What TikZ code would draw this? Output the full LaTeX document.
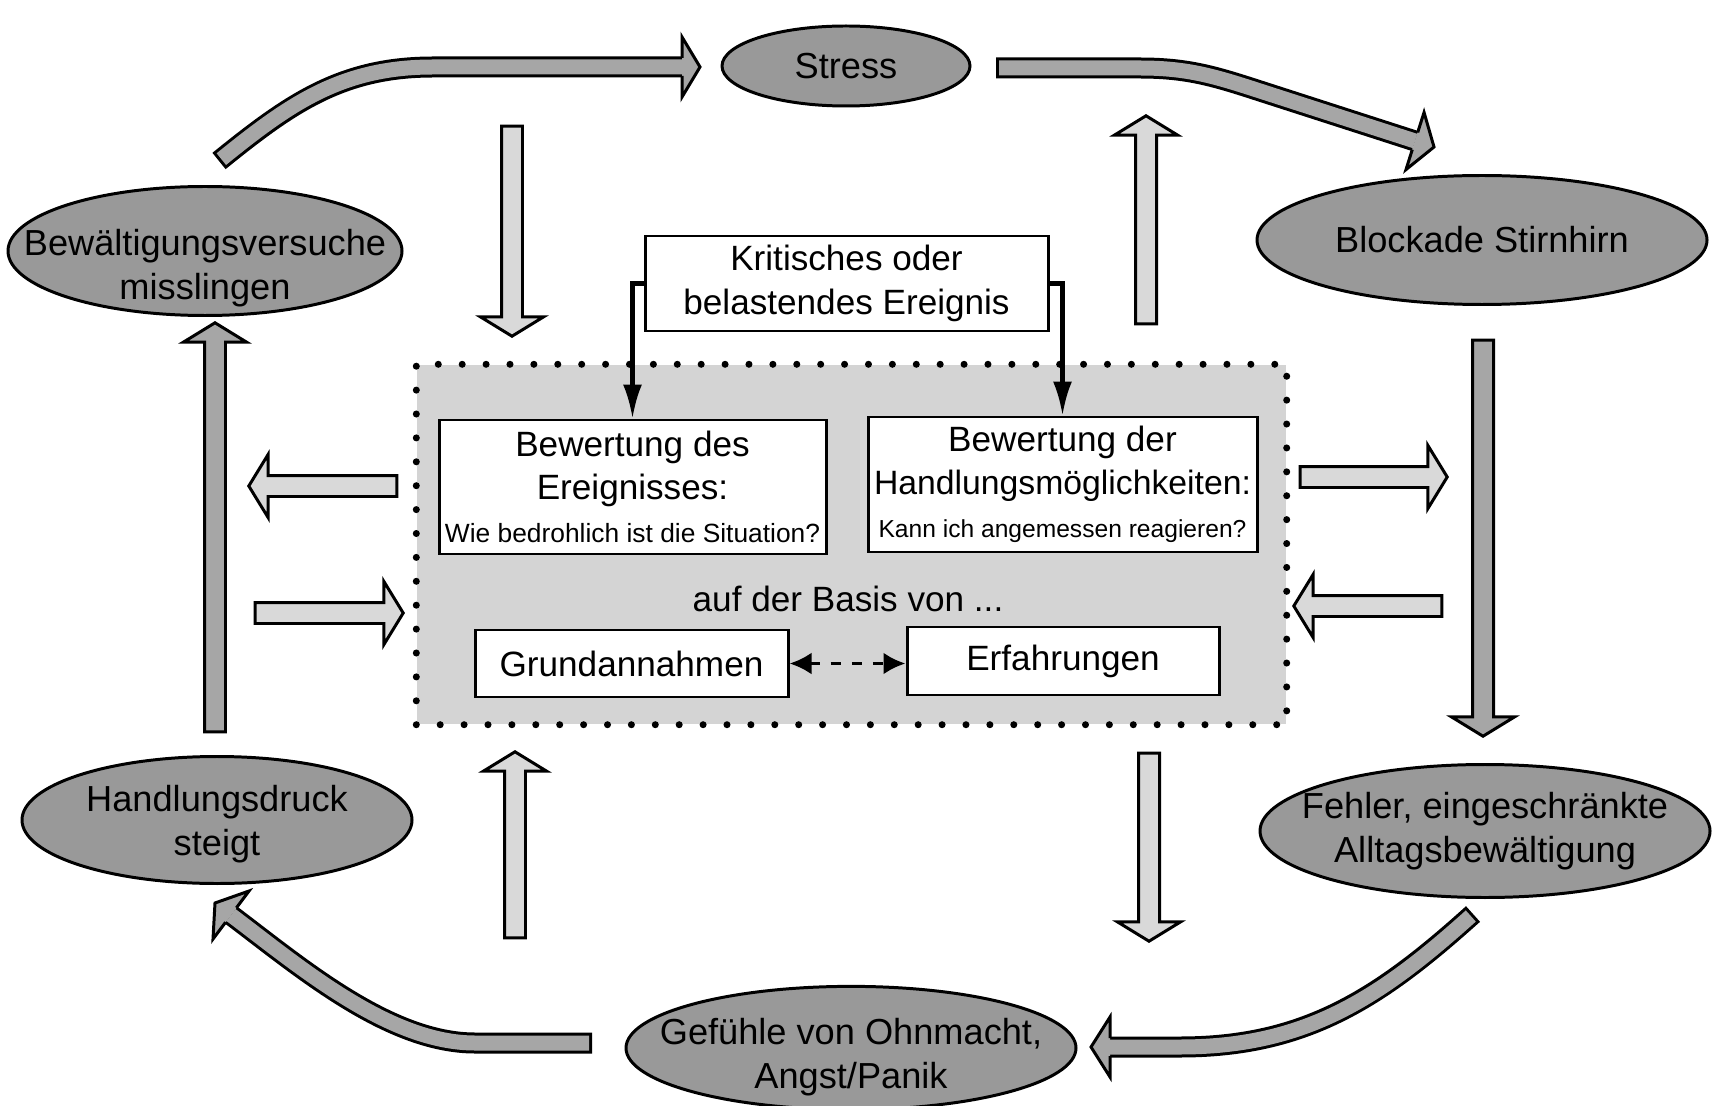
\documentclass[tikz,border=0pt]{standalone}
\usepackage{fontspec}
\setmainfont{Liberation Sans}
\usetikzlibrary{positioning,shapes,shapes.arrows,arrows.meta,calc}

% head of a curved block arrow: base point, tip point
\newcommand{\myhead}[2]{%
	\fill[black!35] ($(#1)!3mm!90:(#2)$) -- (#2) -- ($(#1)!3mm!-90:(#2)$) -- cycle;
	\draw[line width=0.85pt] ($(#1)!0.9mm!90:(#2)$) -- ($(#1)!3mm!90:(#2)$) -- (#2) -- ($(#1)!3mm!-90:(#2)$) -- ($(#1)!0.9mm!-90:(#2)$);
}
% two lines of ellipse text, moved down a little
\newcommand{\mylower}[2]{\raisebox{#1}[\height][\depth]{\begin{tabular}{@{}c@{}}#2\end{tabular}}}

\begin{document}
\begin{tikzpicture}[auto]
	\tikzset{
		myellipse/.style={ellipse, draw=black, fill=black!40, line width=0.85pt, inner ysep=0pt, inner xsep=-1.2cm, align=center, font=\fontsize{10.3}{12.4}\selectfont},
		mybox/.style={rectangle, draw=black, fill=white, line width=0.85pt, inner sep=1pt, align=center, font=\fontsize{10}{12.3}\selectfont},
		myregion/.style={rectangle, fill=black!17, inner sep=0pt},
		mydots/.style={draw=black, line width=2pt, line cap=round, dash pattern=on 0pt off 6.8pt},
		mylight/.style={single arrow, draw=black, fill=black!15, line width=0.85pt, inner sep=0.9mm, single arrow head extend=2.1mm, single arrow tip angle=117},
		mydark/.style={mylight, fill=black!35},
		myarrow/.style={-{Latex[length=3.4mm,width=1.9mm]}, line width=1.2pt},
		mydash/.style={{Latex[length=2.2mm,width=2.2mm]}-{Latex[length=2.2mm,width=2.2mm]}, dashed, line width=1.1pt},
		myshaft/.style={draw=black!35, line width=1.5mm, shorten <=0.3mm, preaction={draw=black, line width=2.1mm, shorten <=0pt}}
	}
	\path[fill=white, use as bounding box] (0,0) rectangle (17.21,11.05);

	% grey field with the two appraisals
	\node[myregion, minimum width=8.69cm, minimum height=3.59cm] (region) at (8.515,5.605) {};
	\draw[mydots] (region.south west) rectangle (region.north east);

	\node[mybox, minimum width=4.03cm, minimum height=0.95cm] (krit) at (8.465,8.215) {Kritisches oder\\belastendes Ereignis};
	\node[mybox, minimum width=3.87cm, minimum height=1.34cm] (bewE) at (6.325,6.18) {Bewertung des\\Ereignisses:\\{\fontsize{7.5}{9}\selectfont Wie bedrohlich ist die Situation?}};
	\node[mybox, minimum width=3.89cm, minimum height=1.35cm] (bewH) at (10.625,6.205) {Bewertung der\\{\fontsize{9.6}{12.3}\selectfont Handlungsmöglichkeiten:}\\{\fontsize{7}{9}\selectfont Kann ich angemessen reagieren?}};
	\node[font=\fontsize{10}{12.3}\selectfont] (basis) at (8.48,5.06) {auf der Basis von ...};
	\node[mybox, minimum width=3.13cm, minimum height=0.67cm] (grund) at (6.315,4.415) {Grundannahmen};
	\node[mybox, minimum width=3.12cm, minimum height=0.68cm] (erf) at (10.63,4.44) {Erfahrungen};

	\draw[myarrow] (krit.west) -| (bewE.north);
	\draw[myarrow] (krit.east) -| (bewH.north);
	\draw[mydash] (grund.east) -- (grund.east -| erf.west);

	% outer ring
	\node[myellipse, minimum width=2.48cm, minimum height=0.80cm] (stress) at (8.46,10.39) {Stress};
	\node[myellipse, minimum width=4.50cm, minimum height=1.29cm] (blockade) at (14.82,8.65) {Blockade Stirnhirn};
	\node[myellipse, minimum width=3.94cm, minimum height=1.29cm] (versuche) at (2.05,8.54) {\mylower{-1.8mm}{Bewältigungsversuche\\misslingen}};
	\node[myellipse, minimum width=3.90cm, minimum height=1.27cm] (druck) at (2.17,2.85) {\mylower{-0.5mm}{Handlungsdruck\\steigt}};
	\node[myellipse, minimum width=4.50cm, minimum height=1.33cm] (fehler) at (14.85,2.74) {Fehler, eingeschränkte\\Alltagsbewältigung};
	\node[myellipse, minimum width=4.50cm, minimum height=1.14cm] (gefuehle) at (8.51,0.57) {\mylower{-1mm}{Gefühle von Ohnmacht,\\Angst/Panik}};

	% straight block arrows
	\node[mylight, minimum height=2.10cm, rotate=-90] (a1) at (5.12,8.77) {};
	\node[mylight, minimum height=2.08cm, rotate=90] (a2) at (11.46,8.82) {};
	\node[mylight, minimum height=1.48cm, rotate=180] (a3) at (3.26,6.19) {};
	\node[mylight, minimum height=1.48cm] (a4) at (3.26,4.92) {};
	\node[mylight, minimum height=1.47cm] (a5) at (13.705,6.28) {};
	\node[mylight, minimum height=1.48cm, rotate=180] (a6) at (13.71,4.99) {};
	\node[mylight, minimum height=1.86cm, rotate=90] (a7) at (5.15,2.57) {};
	\node[mylight, minimum height=1.88cm, rotate=-90] (a8) at (11.49,2.61) {};
	\node[mydark, minimum height=4.09cm, rotate=90] (d1) at (2.15,5.745) {};
	\node[mydark, minimum height=3.96cm, rotate=-90] (d2) at (14.83,5.70) {};

	% curved block arrows
	\coordinate (t1) at (2.19,9.44);  \coordinate (m1) at (4.33,10.38);
	\coordinate (h1) at (6.82,10.38); \coordinate (p1) at (7.00,10.38);
	\coordinate (t2) at (9.96,10.37); \coordinate (m2) at (11.40,10.37);
	\coordinate (n2) at (12.60,10.14); \coordinate (h2) at (14.15,9.64);
	\coordinate (p2) at (14.34,9.58);
	\coordinate (t3) at (14.73,1.91); \coordinate (m3) at (11.80,0.58);
	\coordinate (h3) at (11.10,0.58); \coordinate (p3) at (10.91,0.58);
	\coordinate (t4) at (5.92,0.62);  \coordinate (m4) at (4.75,0.62);
	\coordinate (h4) at (2.31,1.90);  \coordinate (p4) at (2.15,2.02);

	\draw[myshaft] (t1) to[out=39,in=180] (m1) -- (h1);
	\myhead{h1}{p1}
	\draw[myshaft] (t2) -- (m2) to[out=0,in=162] (n2) -- (h2);
	\myhead{h2}{p2}
	\draw[myshaft] (t3) to[out=222,in=0] (m3) -- (h3);
	\myhead{h3}{p3}
	\draw[myshaft] (t4) -- (m4) to[out=180,in=-37,looseness=0.8] (h4);
	\myhead{h4}{p4}
\end{tikzpicture}
\end{document}
